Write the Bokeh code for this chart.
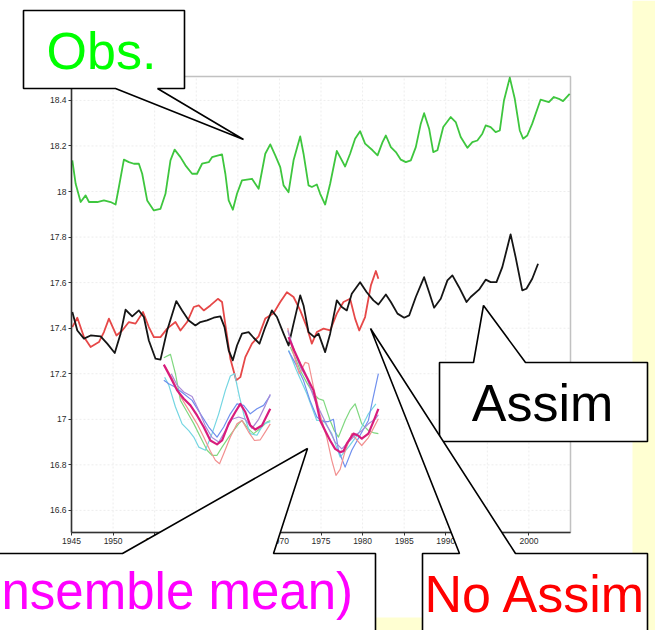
from bokeh.plotting import figure
from bokeh.models import Range1d, LinearAxis, FixedTicker, BoxAnnotation
from bokeh.core.properties import value
from bokeh.embed import file_html
from bokeh.resources import INLINE

# ---------------- data ----------------
x_ticks = [1945, 1950, 1955, 1960, 1965, 1970, 1975, 1980, 1985, 1990, 1995, 2000]
x_tick_labels = ["1945", "1950", "1955", "1960", "1965", "1970", "1975", "1980", "1985", "1990", "1995", "2000"]
y_ticks = [16.6, 16.8, 17.0, 17.2, 17.4, 17.6, 17.8, 18.0, 18.2, 18.4]
y_tick_labels = ["16.6", "16.8", "17", "17.2", "17.4", "17.6", "17.8", "18", "18.2", "18.4"]

obs_year = [1945.1, 1945.5, 1946.1, 1946.7, 1947.1, 1948.1, 1948.9, 1949.7, 1950.3, 1950.7, 1951.3, 1951.9,
            1952.5, 1953.1, 1953.5, 1954.1, 1954.9, 1955.7, 1956.3, 1956.9, 1957.4, 1958.1, 1958.7, 1959.5,
            1960.1, 1960.7, 1961.5, 1961.9, 1963.1, 1963.5, 1963.9, 1964.4, 1964.9, 1965.5, 1966.7, 1967.5,
            1968.3, 1968.9, 1969.5, 1970.1, 1970.5, 1971.1, 1971.7, 1972.5, 1972.9, 1973.5, 1973.9, 1974.5,
            1974.9, 1975.5, 1976.1, 1976.9, 1977.3, 1977.9, 1978.5, 1979.1, 1979.7, 1980.3, 1981.2, 1981.8,
            1982.4, 1982.8, 1983.4, 1984.0, 1984.6, 1985.2, 1985.8, 1986.4, 1987.0, 1987.4, 1988.0, 1988.5,
            1989.0, 1989.7, 1990.6, 1991.2, 1991.8, 1992.6, 1993.2, 1993.8, 1994.4, 1994.8, 1995.4, 1996.0,
            1996.5, 1997.0, 1997.7, 1998.3, 1998.9, 1999.3, 1999.8, 2000.4, 2001.4, 2002.4, 2003.0, 2003.6,
            2004.1, 2004.9]
obs_val = [18.137, 18.034, 17.954, 17.983, 17.954, 17.954, 17.961, 17.954, 17.943, 18.02, 18.14, 18.129,
           18.122, 18.122, 18.078, 17.961, 17.917, 17.924, 17.99, 18.137, 18.184, 18.151, 18.115, 18.078,
           18.078, 18.122, 18.129, 18.151, 18.163, 18.078, 17.961, 17.92, 17.99, 18.049, 18.056, 18.012,
           18.166, 18.207, 18.159, 18.107, 18.027, 17.997, 18.137, 18.242, 18.166, 18.027, 18.02, 18.031,
           17.99, 17.943, 18.034, 18.178, 18.151, 18.11, 18.166, 18.232, 18.265, 18.21, 18.181, 18.159,
           18.217, 18.246, 18.195, 18.173, 18.14, 18.129, 18.137, 18.195, 18.298, 18.344, 18.276, 18.173,
           18.181, 18.283, 18.327, 18.305, 18.239, 18.192, 18.217, 18.224, 18.254, 18.29, 18.283, 18.261,
           18.268, 18.4, 18.5, 18.407, 18.268, 18.232, 18.246, 18.298, 18.403, 18.393, 18.415, 18.407,
           18.397, 18.429]

assim_year = [1945.1, 1945.7, 1946.5, 1947.3, 1948.5, 1949.3, 1950.2, 1950.9, 1951.5, 1952.3, 1953.1, 1953.7,
              1954.3, 1955.1, 1955.7, 1956.5, 1957.6, 1958.3, 1959.1, 1959.9, 1960.5, 1961.3, 1962.1, 1962.9,
              1963.4, 1963.9, 1964.4, 1964.9, 1965.5, 1966.3, 1966.9, 1967.6, 1968.3, 1969.1, 1969.7, 1970.5,
              1971.1, 1971.7, 1972.5, 1972.9, 1973.5, 1974.2, 1974.7, 1975.5, 1976.1, 1976.9, 1977.5, 1978.1,
              1978.7, 1979.7, 1980.5, 1981.3, 1981.9, 1982.8, 1983.4, 1984.2, 1985.0, 1985.6, 1986.4, 1987.4,
              1988.0, 1988.6, 1989.4, 1990.2, 1990.8, 1991.6, 1992.5, 1993.0, 1994.0, 1994.8, 1995.4, 1996.1,
              1996.8, 1997.8, 1998.4, 1999.2, 1999.7, 2000.4, 2001.1]
assim_val = [17.471, 17.39, 17.354, 17.368, 17.364, 17.332, 17.291, 17.376, 17.481, 17.452, 17.478, 17.449,
             17.346, 17.266, 17.262, 17.39, 17.519, 17.478, 17.434, 17.412, 17.427, 17.434, 17.446, 17.452,
             17.405, 17.303, 17.259, 17.324, 17.376, 17.383, 17.358, 17.332, 17.405, 17.478, 17.449, 17.376,
             17.324, 17.42, 17.544, 17.5, 17.383, 17.361, 17.376, 17.295, 17.376, 17.522, 17.493, 17.478,
             17.551, 17.602, 17.558, 17.522, 17.504, 17.548, 17.515, 17.464, 17.446, 17.456, 17.537, 17.624,
             17.558, 17.49, 17.529, 17.61, 17.632, 17.58, 17.515, 17.537, 17.569, 17.613, 17.602, 17.602,
             17.668, 17.812, 17.712, 17.566, 17.573, 17.617, 17.683]

noassim_year = [1945.1, 1945.7, 1946.5, 1947.3, 1948.3, 1948.9, 1949.5, 1950.4, 1951.1, 1951.9, 1952.7, 1953.6,
                1954.3, 1954.9, 1955.7, 1956.5, 1957.5, 1958.1, 1958.9, 1959.7, 1960.3, 1960.9, 1961.7, 1962.6,
                1963.1, 1963.6, 1964.1, 1964.8, 1965.3, 1965.9, 1966.7, 1967.5, 1968.3, 1969.3, 1970.1, 1970.9,
                1971.7, 1972.5, 1973.3, 1973.9, 1974.5, 1975.3, 1976.1, 1976.9, 1977.7, 1978.5, 1979.1, 1979.6,
                1980.3, 1981.0, 1981.6, 1981.9]
noassim_val = [17.405, 17.446, 17.361, 17.317, 17.339, 17.383, 17.442, 17.368, 17.39, 17.427, 17.42, 17.471,
               17.405, 17.361, 17.361, 17.398, 17.427, 17.39, 17.427, 17.493, 17.5, 17.478, 17.5, 17.529,
               17.515, 17.39, 17.266, 17.171, 17.185, 17.273, 17.332, 17.364, 17.442, 17.466, 17.515, 17.558,
               17.537, 17.478, 17.405, 17.332, 17.383, 17.398, 17.39, 17.464, 17.515, 17.529, 17.442, 17.39,
               17.449, 17.588, 17.651, 17.617]

# first hindcast ensemble (from 1956)
e1_green_year = [1956.1, 1956.9, 1957.5, 1958.1, 1958.9, 1959.7, 1960.5, 1961.3, 1961.9, 1962.5, 1963.1, 1963.9,
                 1964.5, 1965.1, 1965.5, 1966.2, 1966.9, 1967.7, 1968.5, 1968.9]
e1_green_val = [17.27, 17.285, 17.2, 17.083, 17.032, 16.981, 16.922, 16.864, 16.842, 16.842, 16.878, 16.922,
                16.951, 16.98, 16.995, 16.96, 16.937, 16.96, 16.988, 16.995]
e1_cyan_year = [1956.2, 1956.7, 1957.5, 1958.3, 1959.1, 1959.7, 1960.3, 1961.1, 1961.9, 1962.7, 1963.5, 1964.1,
                1964.6, 1965.2, 1965.8, 1966.5, 1967.3, 1968.1, 1968.9]
e1_cyan_val = [17.185, 17.15, 17.054, 16.98, 16.95, 16.922, 16.878, 16.864, 16.937, 17.024, 17.127, 17.19,
               17.2, 17.098, 17.01, 16.937, 16.93, 16.98, 16.99]
e1_blue_year = [1956.1, 1956.7, 1957.5, 1958.5, 1959.5, 1960.5, 1961.5, 1962.5, 1963.3, 1964.1, 1964.9, 1965.7,
                1966.5, 1967.3, 1968.1, 1968.9]
e1_blue_val = [17.171, 17.156, 17.141, 17.112, 17.083, 17.024, 16.966, 16.922, 16.966, 17.024, 17.068, 17.061,
               17.024, 17.046, 17.061, 17.105]
e1_salmon_year = [1956.3, 1957.1, 1958.1, 1959.1, 1960.1, 1960.9, 1961.7, 1962.3, 1962.8, 1963.3, 1964.1, 1964.9,
                  1965.5, 1966.3, 1967.0, 1967.7, 1968.4, 1968.9]
e1_salmon_val = [17.23, 17.18, 17.1, 17.04, 16.98, 16.922, 16.86, 16.82, 16.805, 16.849, 16.922, 16.98,
                 16.995, 16.944, 16.907, 16.91, 16.95, 16.98]
e1_purple_year = [1957.0, 1957.7, 1958.5, 1959.5, 1960.3, 1961.1, 1961.9, 1962.7, 1963.5, 1964.3, 1965.1, 1965.9,
                  1966.7, 1967.5, 1968.3, 1968.9]
e1_purple_val = [17.2, 17.15, 17.12, 17.1, 17.04, 16.97, 16.92, 16.9, 16.95, 17.0, 17.01, 17.0,
                 16.96, 17.0, 17.06, 17.11]
e1_mean_year = [1956.1, 1956.9, 1957.7, 1958.5, 1959.3, 1960.1, 1960.9, 1961.7, 1962.5, 1963.1, 1963.9, 1964.7,
                1965.3, 1965.9, 1966.5, 1967.1, 1967.9, 1968.7, 1968.9]
e1_mean_val = [17.24, 17.185, 17.127, 17.09, 17.061, 17.017, 16.966, 16.907, 16.89, 16.907, 16.981, 17.032,
               17.068, 17.032, 16.973, 16.955, 16.973, 17.032, 17.046]

# second hindcast ensemble (from 1971)
e2_green_year = [1971.3, 1971.9, 1972.5, 1973.3, 1974.1, 1974.7, 1975.3, 1976.1, 1976.6, 1977.1, 1977.9, 1978.5,
                 1979.1, 1979.9, 1980.7, 1981.4, 1981.9]
e2_green_val = [17.317, 17.27, 17.215, 17.16, 17.112, 17.09, 17.083, 16.995, 16.95, 16.922, 16.995, 17.04,
                17.068, 16.98, 16.951, 16.94, 16.937]
e2_cyan_year = [1971.1, 1972.0, 1973.3, 1974.5, 1975.3, 1976.3, 1977.3, 1978.3, 1979.5, 1980.7, 1981.6]
e2_cyan_val = [17.303, 17.22, 17.112, 16.995, 16.995, 16.937, 16.834, 16.878, 16.937, 17.024, 17.068]
e2_blue_year = [1971.1, 1972.0, 1972.9, 1973.7, 1974.5, 1975.2, 1975.9, 1976.5, 1977.1, 1977.9, 1978.7, 1979.7,
                1980.7, 1981.2, 1981.9]
e2_blue_val = [17.3, 17.24, 17.17, 17.08, 17.01, 16.99, 16.99, 17.0, 16.864, 16.79, 16.864, 16.93,
               16.995, 17.083, 17.2]
e2_salmon_year = [1971.0, 1971.6, 1972.4, 1973.1, 1973.5, 1974.1, 1974.9, 1975.7, 1976.3, 1976.8, 1977.3, 1977.9,
                  1978.7, 1979.3, 1979.9, 1980.7, 1981.3, 1981.9]
e2_salmon_val = [17.4, 17.3, 17.2, 17.25, 17.245, 17.141, 17.02, 16.92, 16.82, 16.754, 16.78, 16.86,
                 16.937, 16.91, 16.885, 16.92, 16.96, 17.002]
e2_purple_year = [1971.0, 1971.8, 1972.5, 1973.3, 1974.3, 1975.1, 1975.9, 1976.7, 1977.5, 1978.3, 1979.1, 1979.9,
                  1980.7, 1981.5, 1981.9]
e2_purple_val = [17.39, 17.3, 17.23, 17.18, 17.08, 17.02, 16.96, 16.9, 16.87, 16.9, 16.93, 16.95,
                 16.98, 17.0, 17.02]
e2_mean_year = [1971.1, 1971.8, 1972.5, 1973.3, 1974.1, 1974.9, 1975.5, 1976.1, 1976.7, 1977.3, 1977.7, 1978.1,
                1978.9, 1979.4, 1979.9, 1980.7, 1981.3, 1981.9]
e2_mean_val = [17.361, 17.3, 17.244, 17.185, 17.127, 16.995, 16.95, 16.907, 16.87, 16.856, 16.86, 16.893,
               16.937, 16.93, 16.915, 16.937, 16.99, 17.046]

# the visible part of each callout's text
callout_texts = ["Obs.", "Assim", "No Assim", "nsemble mean)"]

# ---------------- layout ----------------
W, H = 655, 630
FRAME_L, FRAME_R, FRAME_T, FRAME_B = 71, 570, 76, 532
X_LO, X_HI = 1945, 2005
Y_LO, Y_HI = 16.503, 18.505
kx = (FRAME_R - FRAME_L) / (X_HI - X_LO)
ky = (FRAME_B - FRAME_T) / (Y_HI - Y_LO)

p = figure(width=W, height=H,
           x_range=Range1d(X_LO - FRAME_L / kx, X_HI + (W - FRAME_R) / kx),
           y_range=Range1d(Y_LO - (H - FRAME_B) / ky, Y_HI + FRAME_T / ky),
           x_axis_location=None, y_axis_location=None, title=None,
           toolbar_location=None, output_backend="svg", min_border=0,
           background_fill_color="white", border_fill_color="white", outline_line_color=None)
p.grid.visible = False
p.extra_x_ranges = {"px": Range1d(0, W)}
p.extra_y_ranges = {"py": Range1d(H, 0)}

# slide background (yellow strips)
p.quad(left=[632, 375], right=[W, W], top=[0, 617], bottom=[H, H],
       x_range_name="px", y_range_name="py", fill_color="#FFFFD2", line_color=None)

# faint grid
p.segment(x0=x_ticks[1:], y0=[Y_LO] * (len(x_ticks) - 1), x1=x_ticks[1:], y1=[Y_HI] * (len(x_ticks) - 1),
          line_color="#ededed", line_width=1, line_dash="2 2")
p.segment(x0=[X_LO] * len(y_ticks), y0=y_ticks, x1=[X_HI] * len(y_ticks), y1=y_ticks,
          line_color="#ededed", line_width=1, line_dash="2 2")

# series
lw = 1.8
p.line(obs_year, obs_val, line_color="#3ec63e", line_width=lw, line_join="round")
p.line(noassim_year, noassim_val, line_color="#e64848", line_width=lw, line_join="round")
p.line(assim_year, assim_val, line_color="#151515", line_width=lw, line_join="round")

members = [
    (e1_green_year, e1_green_val, "#80d880"), (e1_cyan_year, e1_cyan_val, "#74d6e2"),
    (e1_blue_year, e1_blue_val, "#7090ee"), (e1_salmon_year, e1_salmon_val, "#f29090"),
    (e1_purple_year, e1_purple_val, "#a88ad8"),
    (e2_green_year, e2_green_val, "#80d880"), (e2_cyan_year, e2_cyan_val, "#74d6e2"),
    (e2_blue_year, e2_blue_val, "#7090ee"), (e2_salmon_year, e2_salmon_val, "#f29090"),
    (e2_purple_year, e2_purple_val, "#a88ad8"),
]
for xs, ys, c in members:
    p.line(xs, ys, line_color=c, line_width=1.2, line_join="round")
p.line(e1_mean_year, e1_mean_val, line_color="#d81c7c", line_width=2.2, line_join="round")
p.line(e2_mean_year, e2_mean_val, line_color="#d81c7c", line_width=2.2, line_join="round")

# plot box
p.add_layout(BoxAnnotation(left=X_LO, right=X_HI, bottom=Y_LO, top=Y_HI,
                           fill_color=None, line_color="#333333", line_width=1.5))

# axes inside the canvas
yax = LinearAxis(fixed_location=X_LO, ticker=FixedTicker(ticks=y_ticks, minor_ticks=[]),
                 bounds=(Y_LO, Y_HI))
yax.major_label_overrides = dict(zip(y_ticks, y_tick_labels))
xax = LinearAxis(fixed_location=Y_LO, ticker=FixedTicker(ticks=x_ticks, minor_ticks=[]),
                 bounds=(X_LO, X_HI))
xax.major_label_overrides = dict(zip(x_ticks, x_tick_labels))
for ax in (yax, xax):
    ax.axis_line_color = "#333333"
    ax.axis_line_width = 1.5
    ax.major_tick_line_color = "#333333"
    ax.major_tick_out = 3
    ax.major_tick_in = 0
    ax.major_label_text_font = "Liberation Sans"
    ax.major_label_text_font_size = "8.5px"
    ax.major_label_text_color = "#2a2a2a"
    ax.major_label_standoff = 2
p.add_layout(yax, "left")
p.add_layout(xax, "below")

# callouts (screen-pixel shapes)
callouts = [
    ([23, 184, 184, 157, 243, 115, 23], [10, 10, 88, 88, 139, 88, 88]),
    ([439, 473, 483, 525, 647, 647, 439], [362, 362, 305, 362, 362, 441, 441]),
    ([422, 459, 370, 515, 647, 647, 422], [553, 553, 328, 553, 553, 640, 640]),
    ([-5, 122, 307, 273, 375, 375, -5], [553, 553, 448, 553, 553, 640, 640]),
]
for xs, ys in callouts:
    r = p.patch(xs, ys, x_range_name="px", y_range_name="py",
                fill_color="white", line_color="black", line_width=1.6)
    r.level = "overlay"

t = p.text(x=[101, 542, 424, 1], y=[50, 402, 593, 591], text=callout_texts,
           text_color=["#00FF00", "#000000", "#FF0000", "#FF00FF"],
           text_align=["center", "center", "left", "left"],
           text_font_size=["52px", "52px", "52px", "51px"],
           x_range_name="px", y_range_name="py",
           text_font=value("Liberation Sans"),
           text_baseline="alphabetic")
t.level = "overlay"

open("out.html", "w").write(file_html(p, INLINE))
